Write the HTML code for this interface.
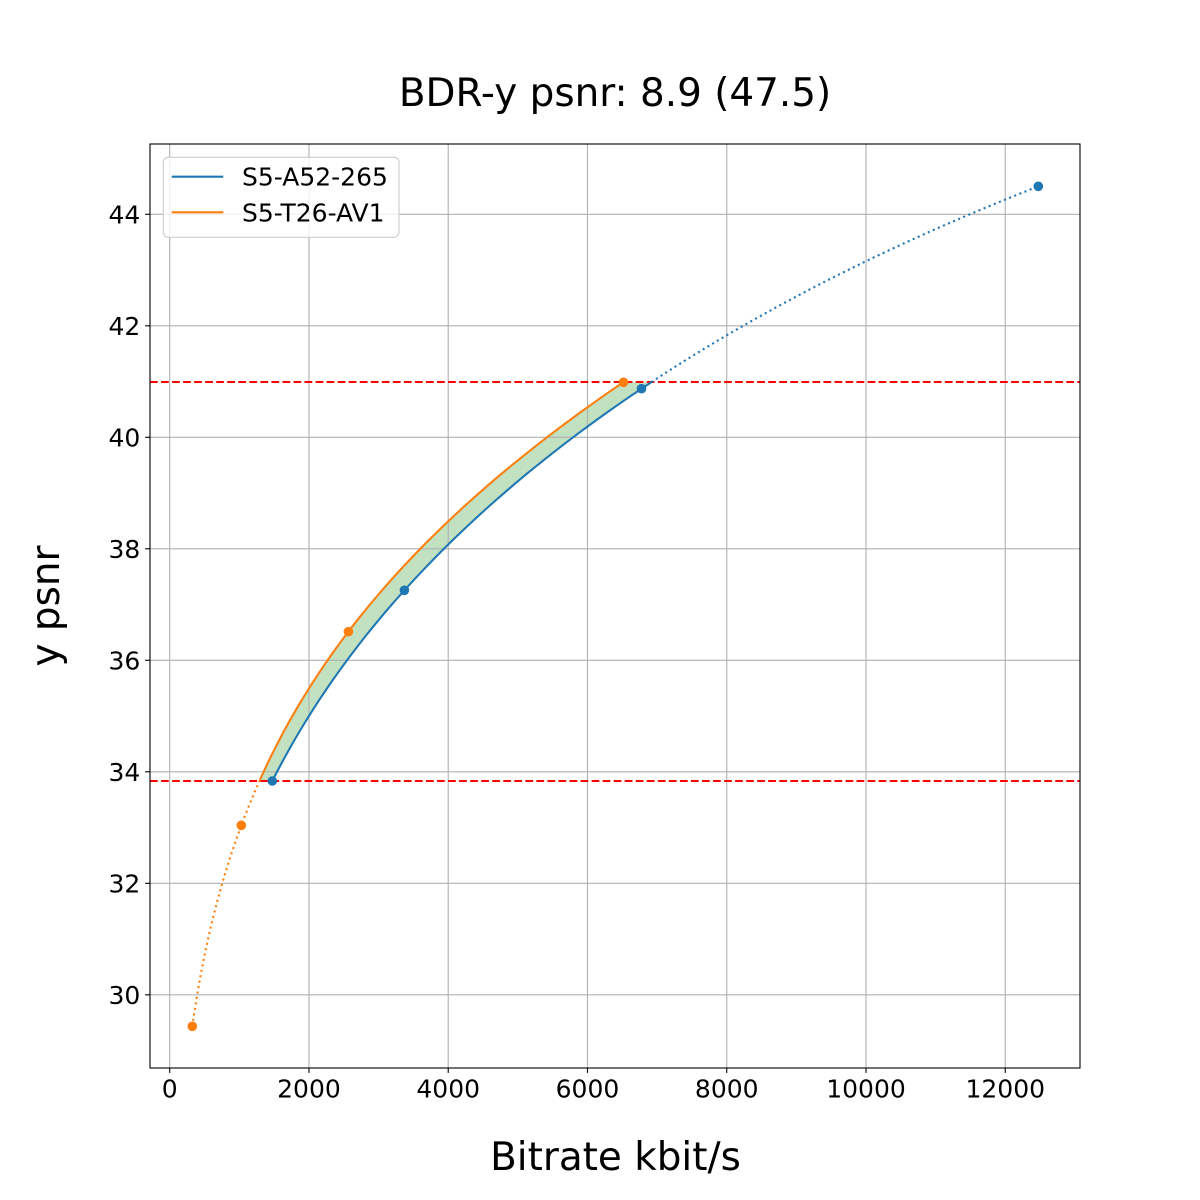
<!DOCTYPE html>
<html>
<head>
<meta charset="utf-8">
<style>
  html, body { margin:0; padding:0; background:#ffffff; }
  svg { display:block; }
  text { font-family: "DejaVu Sans", "Liberation Sans", sans-serif; fill:#000; }
</style>
</head>
<body>
<svg id="chart" width="1200" height="1200" viewBox="0 0 1200 1200" xmlns="http://www.w3.org/2000/svg">
  <rect x="0" y="0" width="1200" height="1200" fill="#ffffff"/>
  <!-- fill between -->
  <path id="fillarea" d="" fill="rgb(193,225,193)" stroke="none"/>
  <!-- grid -->
  <g stroke="#b0b0b0" stroke-width="1.1" fill="none">
    <line x1="169.7" y1="144" x2="169.7" y2="1068"/>
    <line x1="308.96" y1="144" x2="308.96" y2="1068"/>
    <line x1="448.22" y1="144" x2="448.22" y2="1068"/>
    <line x1="587.48" y1="144" x2="587.48" y2="1068"/>
    <line x1="726.74" y1="144" x2="726.74" y2="1068"/>
    <line x1="866.0" y1="144" x2="866.0" y2="1068"/>
    <line x1="1005.26" y1="144" x2="1005.26" y2="1068"/>
    <line x1="150" y1="994.8" x2="1080" y2="994.8"/>
    <line x1="150" y1="883.3" x2="1080" y2="883.3"/>
    <line x1="150" y1="771.8" x2="1080" y2="771.8"/>
    <line x1="150" y1="660.3" x2="1080" y2="660.3"/>
    <line x1="150" y1="548.8" x2="1080" y2="548.8"/>
    <line x1="150" y1="437.3" x2="1080" y2="437.3"/>
    <line x1="150" y1="325.8" x2="1080" y2="325.8"/>
    <line x1="150" y1="214.3" x2="1080" y2="214.3"/>
  </g>
  <!-- red dashed lines -->
  <g stroke="#ff0000" stroke-width="2.08" stroke-dasharray="7.71 3.33" fill="none">
    <line x1="150" y1="382" x2="1080" y2="382"/>
    <line x1="150" y1="781" x2="1080" y2="781"/>
  </g>
  <!-- curves -->
  <path id="bDot" d="" fill="none" stroke="#1f77b4" stroke-width="2.08" stroke-dasharray="2.08 3.44"/>
  <path id="oDot" d="" fill="none" stroke="#ff7f0e" stroke-width="2.08" stroke-dasharray="2.08 3.44"/>
  <path id="bSol" d="" fill="none" stroke="#1f77b4" stroke-width="2.08" stroke-linejoin="round"/>
  <path id="oSol" d="" fill="none" stroke="#ff7f0e" stroke-width="2.08" stroke-linejoin="round"/>
  <!-- markers -->
  <g fill="#1f77b4">
    <circle cx="272.3" cy="781" r="4.8"/>
    <circle cx="404.4" cy="590.3" r="4.8"/>
    <circle cx="641.5" cy="388.7" r="4.8"/>
    <circle cx="1038.3" cy="186.3" r="4.8"/>
  </g>
  <g fill="#ff7f0e">
    <circle cx="192.3" cy="1026.3" r="4.8"/>
    <circle cx="241.3" cy="825.3" r="4.8"/>
    <circle cx="348.4" cy="631.7" r="4.8"/>
    <circle cx="623.5" cy="382.3" r="4.8"/>
  </g>
  <!-- axes spines -->
  <rect x="150" y="144" width="930" height="924" fill="none" stroke="#000" stroke-width="1.1"/>
  <!-- ticks -->
  <g stroke="#000" stroke-width="1.1">
    <line x1="169.7" y1="1068" x2="169.7" y2="1072.9"/>
    <line x1="308.96" y1="1068" x2="308.96" y2="1072.9"/>
    <line x1="448.22" y1="1068" x2="448.22" y2="1072.9"/>
    <line x1="587.48" y1="1068" x2="587.48" y2="1072.9"/>
    <line x1="726.74" y1="1068" x2="726.74" y2="1072.9"/>
    <line x1="866.0" y1="1068" x2="866.0" y2="1072.9"/>
    <line x1="1005.26" y1="1068" x2="1005.26" y2="1072.9"/>
    <line x1="145.1" y1="994.8" x2="150" y2="994.8"/>
    <line x1="145.1" y1="883.3" x2="150" y2="883.3"/>
    <line x1="145.1" y1="771.8" x2="150" y2="771.8"/>
    <line x1="145.1" y1="660.3" x2="150" y2="660.3"/>
    <line x1="145.1" y1="548.8" x2="150" y2="548.8"/>
    <line x1="145.1" y1="437.3" x2="150" y2="437.3"/>
    <line x1="145.1" y1="325.8" x2="150" y2="325.8"/>
    <line x1="145.1" y1="214.3" x2="150" y2="214.3"/>
  </g>
  <!-- tick labels -->
  <g font-size="25" text-anchor="middle">
    <text x="169.7" y="1097.5">0</text>
    <text x="308.96" y="1097.5">2000</text>
    <text x="448.22" y="1097.5">4000</text>
    <text x="587.48" y="1097.5">6000</text>
    <text x="726.74" y="1097.5">8000</text>
    <text x="866.0" y="1097.5">10000</text>
    <text x="1005.26" y="1097.5">12000</text>
  </g>
  <g font-size="25" text-anchor="end">
    <text x="140.3" y="1003.8">30</text>
    <text x="140.3" y="892.3">32</text>
    <text x="140.3" y="780.8">34</text>
    <text x="140.3" y="669.3">36</text>
    <text x="140.3" y="557.8">38</text>
    <text x="140.3" y="446.3">40</text>
    <text x="140.3" y="334.8">42</text>
    <text x="140.3" y="223.3">44</text>
  </g>
  <!-- title and axis labels -->
  <text x="615" y="106" font-size="38.9" text-anchor="middle">BDR-y psnr: 8.9 (47.5)</text>
  <text x="615.5" y="1170" font-size="38.9" text-anchor="middle">Bitrate kbit/s</text>
  <text transform="translate(59,606) rotate(-90)" x="0" y="0" font-size="38.9" text-anchor="middle">y psnr</text>
  <!-- legend -->
  <rect x="163.3" y="157.3" width="235.7" height="80" rx="5" ry="5" fill="#ffffff" fill-opacity="0.8" stroke="#cccccc" stroke-width="1.1"/>
  <line x1="171.7" y1="176.7" x2="223.3" y2="176.7" stroke="#1f77b4" stroke-width="2.08"/>
  <line x1="171.7" y1="212.3" x2="223.3" y2="212.3" stroke="#ff7f0e" stroke-width="2.08"/>
  <text x="242" y="185.7" font-size="25">S5-A52-265</text>
  <text x="242" y="221.5" font-size="25">S5-T26-AV1</text>
</svg>
<script>
(function(){
  var X = function(v){ return 169.7 + v*0.06963; };
  var Y = function(p){ return 214.3 + (44 - p)*55.75; };
  function lagr(ps, ls, p){
    var s = 0;
    for (var i=0;i<ps.length;i++){
      var t = ls[i];
      for (var j=0;j<ps.length;j++){ if (j!==i) t *= (p - ps[j])/(ps[i]-ps[j]); }
      s += t;
    }
    return s;
  }
  var bP=[33.835,37.256,40.872,44.50], bR=[1474,3371,6776,12475];
  var oP=[29.435,33.04,36.513,40.99], oR=[325,1029,2566,6517];
  var bL=bR.map(Math.log), oL=oR.map(Math.log);
  function rateB(p){ return Math.exp(lagr(bP,bL,p)); }
  function rateO(p){ return Math.exp(lagr(oP,oL,p)); }
  function pts(f, p0, p1, n){
    var a=[];
    for (var i=0;i<=n;i++){ var p=p0+(p1-p0)*i/n; a.push([X(f(p)), Y(p)]); }
    return a;
  }
  function toPath(a){
    return a.map(function(q,i){ return (i?'L':'M')+q[0].toFixed(2)+' '+q[1].toFixed(2); }).join(' ');
  }
  var lo=33.835, hi=40.99;
  var bs=pts(rateB,lo,hi,200), os=pts(rateO,lo,hi,200);
  document.getElementById('bSol').setAttribute('d', toPath(bs));
  document.getElementById('oSol').setAttribute('d', toPath(os));
  document.getElementById('bDot').setAttribute('d', toPath(pts(rateB,hi,44.5,150)));
  document.getElementById('oDot').setAttribute('d', toPath(pts(rateO,29.435,lo,150)));
  var f = bs.concat(os.slice().reverse());
  document.getElementById('fillarea').setAttribute('d', toPath(f)+' Z');
})();
</script>
</body>
</html>
